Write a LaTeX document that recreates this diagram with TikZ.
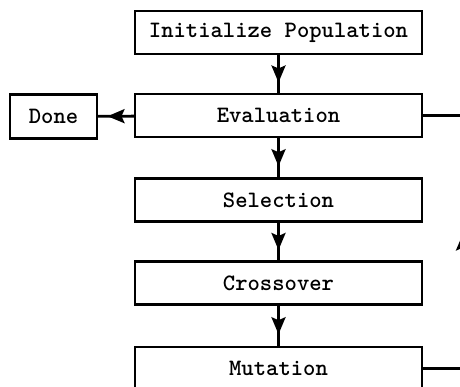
\documentclass[tikz,border=0pt]{standalone}
\usetikzlibrary{arrows.meta,decorations.markings}
\begin{document}
\begin{tikzpicture}[x=1pt,y=-1pt,
  box/.style={draw,line width=2.4pt,minimum width=287pt,minimum height=43pt,inner sep=0pt,
    font=\ttfamily\bfseries\fontsize{23.5}{28}\selectfont},
  smallbox/.style={box,minimum width=87pt,minimum height=44pt},
  link/.style={line width=2.8pt},
  conn/.style={link,postaction={decorate},decoration={markings,
    mark=at position 0.5 with {\begin{scope}[xshift=8.5pt]\arrow{Stealth[length=17pt,width=14pt,inset=3pt]}\end{scope}}}}]
\useasboundingbox (0,0) rectangle (460,387);
\clip (0,0) rectangle (460,387);
\node[box] (init) at (278.5,32.5) {Initialize Population};
\node[box] (eval) at (278.5,115.5) {Evaluation};
\node[smallbox] (done) at (53.5,116.5) {Done};
\node[box] (sel) at (278.5,200) {Selection};
\node[box] (cross) at (278.5,283) {Crossover};
\node[box] (mut) at (278.5,368.5) {Mutation};
\coordinate (m1) at (463,368.5);
\coordinate (e1) at (463,115.5);
\draw[conn] (init) -- (eval);
\draw[conn] (eval) -- (done);
\draw[conn] (eval) -- (sel);
\draw[conn] (sel) -- (cross);
\draw[conn] (cross) -- (mut);
\draw[link] (mut) -- (m1);
\draw[conn] (m1) -- (e1);
\draw[link] (e1) -- (eval);
\end{tikzpicture}
\end{document}
